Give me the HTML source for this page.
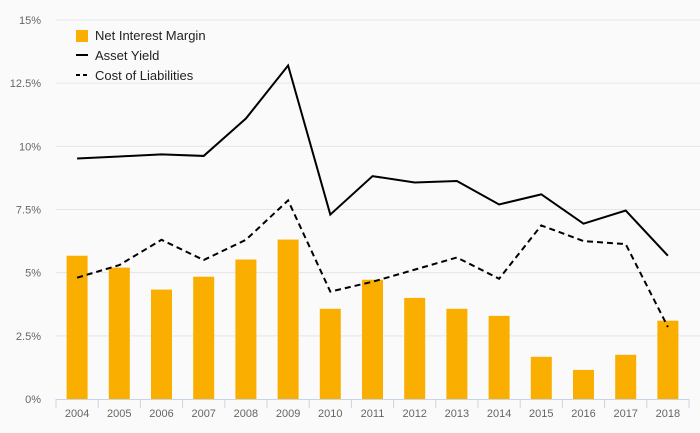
<!DOCTYPE html>
<html><head><meta charset="utf-8"><style>
body{margin:0;background:#fafafa;}
svg{display:block;font-family:"Liberation Sans",sans-serif;}
</style></head><body>
<svg id="chart" width="700" height="433">
<rect width="700" height="433" fill="#fafafa"/>
<g id="grid"></g><g id="bars"></g><g id="lines"></g><g id="axes"></g>
<g font-size="13" fill="#222">
<rect x="76" y="30" width="12" height="12" fill="#f9ae00"/>
<text x="95" y="40">Net Interest Margin</text>
<line x1="76" x2="88" y1="55" y2="55" stroke="#000" stroke-width="2"/>
<text x="95" y="60">Asset Yield</text>
<line x1="76" x2="88" y1="75" y2="75" stroke="#000" stroke-width="2" stroke-dasharray="4,3"/>
<text x="95" y="80">Cost of Liabilities</text>
</g>
</svg>
<script>
const categories=["2004","2005","2006","2007","2008","2009","2010","2011","2012","2013","2014","2015","2016","2017","2018"];
const nim=[5.67,5.2,4.33,4.84,5.52,6.31,3.57,4.72,4.0,3.57,3.29,1.67,1.15,1.75,3.1];
const assetYield=[9.52,9.6,9.68,9.62,11.1,13.2,7.3,8.82,8.57,8.63,7.7,8.1,6.94,7.46,5.67];
const costLiab=[4.8,5.3,6.3,5.5,6.3,7.86,4.25,4.64,5.12,5.6,4.76,6.87,6.25,6.13,2.85];
const yTicks=[0,2.5,5,7.5,10,12.5,15];
const yTickLabels=["0%","2.5%","5%","7.5%","10%","12.5%","15%"];
const NS="http://www.w3.org/2000/svg";
const x0=56,band=42.2,yTop=20,yBot=399,yMax=15;
const y=v=>yBot-(v/yMax)*(yBot-yTop);
const xc=i=>x0+band*(i+0.5);
function mk(t,a,p){const e=document.createElementNS(NS,t);for(const k in a)e.setAttribute(k,a[k]);p.appendChild(e);return e;}
const grid=document.getElementById('grid'),axes=document.getElementById('axes'),bars=document.getElementById('bars'),lines=document.getElementById('lines');
yTicks.forEach((v,i)=>{
  if(v>0){const l=mk('line',{x1:x0,x2:700,y1:y(v),y2:y(v),stroke:'#e6e6e6'},grid);
  
  }
  const t=mk('text',{x:41,y:y(v)+4,'text-anchor':'end','font-size':11,fill:'#666'},axes);
  t.textContent=yTickLabels[i];
  
  
});
const ax=mk('line',{x1:x0,x2:x0+band*categories.length,y1:yBot+0.5,y2:yBot+0.5,stroke:'#c8d5e9'},axes);


for(let i=0;i<=categories.length;i++){
  const tk=mk('line',{x1:x0+band*i,x2:x0+band*i,y1:yBot,y2:yBot+9,stroke:'#c8d5e9'},axes);
  
  
}
categories.forEach((c,i)=>{
  const t=mk('text',{x:xc(i),y:417,'text-anchor':'middle','font-size':11,fill:'#666'},axes);
  t.textContent=c;
  
  
  const b=mk('rect',{x:xc(i)-10.5,y:y(nim[i]),width:21,height:yBot-y(nim[i]),fill:'#f9ae00'},bars);
  
  
});
const pts=a=>a.map((v,i)=>xc(i)+','+y(v)).join(' ');
const l1=mk('polyline',{points:pts(assetYield),fill:'none',stroke:'#000','stroke-width':2},lines);


const l2=mk('polyline',{points:pts(costLiab),fill:'none',stroke:'#000','stroke-width':2,'stroke-dasharray':'6,4'},lines);


</script>
</body></html>
